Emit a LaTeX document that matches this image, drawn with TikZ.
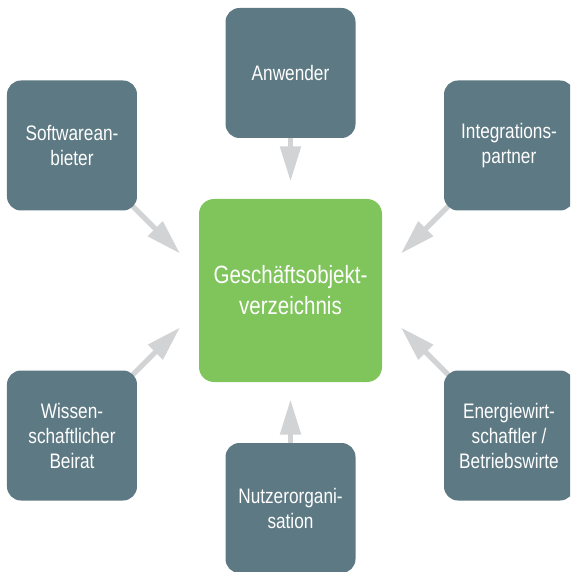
\documentclass[tikz,border=0pt]{standalone}
\usepackage{fontspec}
\setmainfont[FakeStretch=0.82]{Liberation Sans}
\usepackage{tikz}
\usetikzlibrary{arrows.meta}
\usetikzlibrary{backgrounds}
\definecolor{slate}{RGB}{93, 121, 131}
\definecolor{leaf}{RGB}{128, 196, 92}
\definecolor{silver}{RGB}{209, 211, 213}

\begin{document}
\begin{tikzpicture}[x=1pt, y=1pt,
        party/.style={fill=slate, rounded corners=14pt, minimum width=130pt, minimum height=130pt,
                      text=white, align=center, font=\fontsize{21}{25}\selectfont},
        flow/.style={silver, line width=5pt, -{Triangle[length=35pt, width=20pt]}}]
    \useasboundingbox (-290.5,-281.5) rectangle (279.5,290.5);
    \clip             (-290.5,-281.5) rectangle (279.5,290.5);
    % centre
    \node[fill=leaf, rounded corners=15pt, minimum size=183pt, text=white, align=center,
          font=\fontsize{25}{31}\selectfont] (register) at (0,0) {Geschäftsobjekt-\\verzeichnis};
    % stakeholders
    \node[party] (user)    at (   0.0, 217.5) {Anwender};
    \node[party] (vendor)  at (-218.5, 145.0) {Softwarean-\\bieter};
    \node[party] (partner) at ( 218.5, 145.0) {Integrations-\\partner};
    \node[party] (board)   at (-218.5,-145.0) {Wissen-\\schaftlicher\\Beirat};
    \node[party] (econ)    at ( 218.5,-145.0) {Energiewirt-\\schaftler /\\Betriebswirte};
    \node[party] (org)     at (   0.0,-217.5) {Nutzerorgani-\\sation};
    % arrow tips
    \coordinate (tipN)  at (   0.0, 109.0);
    \coordinate (tipS)  at (   0.0,-109.0);
    \coordinate (tipNW) at (-110.5,  37.0);
    \coordinate (tipNE) at ( 110.5,  37.0);
    \coordinate (tipSW) at (-110.5, -37.0);
    \coordinate (tipSE) at ( 110.5, -37.0);
    \begin{scope}[on background layer]
        \draw[flow] (user.center)    -- (tipN);
        \draw[flow] (vendor.center)  -- (tipNW);
        \draw[flow] (partner.center) -- (tipNE);
        \draw[flow] (board.center)   -- (tipSW);
        \draw[flow] (econ.center)    -- (tipSE);
        \draw[flow] (org.center)     -- (tipS);
    \end{scope}
\end{tikzpicture}
\end{document}
